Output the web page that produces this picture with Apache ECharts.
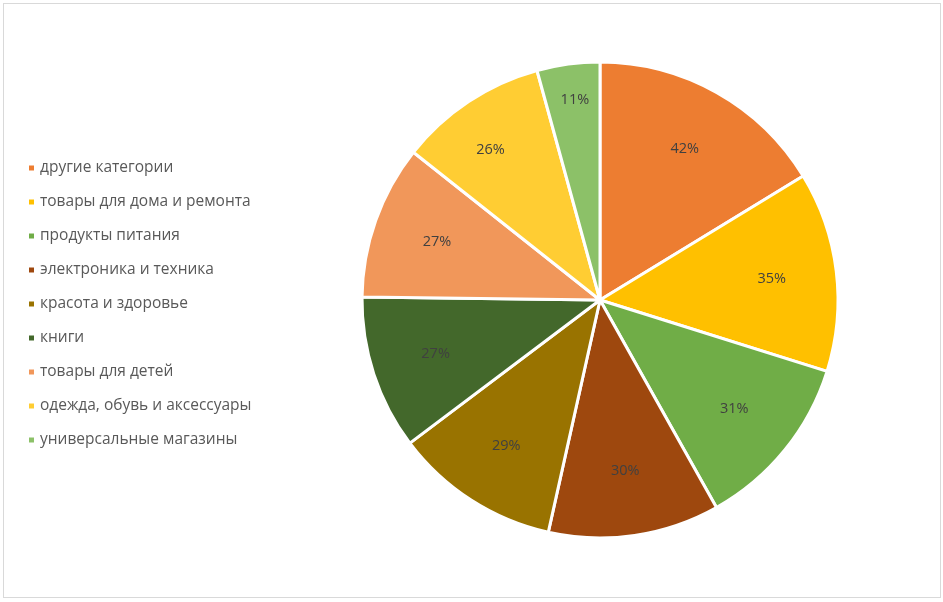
<!DOCTYPE html>
<html>
<head>
<meta charset="utf-8">
<script src="https://cdn.jsdelivr.net/npm/echarts@6/dist/echarts.min.js"></script>
<style>
  html, body { margin: 0; padding: 0; background: #fff; }
  #chart { width: 943px; height: 602px; }
  .frame { position: absolute; left: 3px; top: 3px; width: 936px; height: 593px; border: 1px solid #d9d9d9; pointer-events: none; }
</style>
</head>
<body>
<div id="chart"></div>
<div class="frame"></div>
<script>
const categories = [
  'другие категории',
  'товары для дома и ремонта',
  'продукты питания',
  'электроника и техника',
  'красота и здоровье',
  'книги',
  'товары для детей',
  'одежда, обувь и аксессуары',
  'универсальные магазины'
]
const shares = [42, 35, 31, 30, 29, 27, 27, 26, 11]
const colors = ['#ED7D31', '#FFC000', '#70AD47', '#9E480E', '#997300', '#43682B', '#F1975A', '#FFCD33', '#8CC168']

const chart = echarts.init(document.getElementById('chart'))

const pieData = categories.map((name, i) => ({ name, value: shares[i] }))

const option = {
  color: colors,
  textStyle: { fontFamily: 'Open Sans' },
  legend: {
    orient: 'vertical',
    left: 22,
    top: 153,
    itemWidth: 7,
    itemHeight: 7,
    itemGap: 14,
    icon: 'rect',
    textStyle: { fontSize: 15.5, color: '#595959', lineHeight: 20 },
    data: categories
  },
  series: [
    {
      type: 'pie',
      center: [600, 300],
      radius: [0, 238],
      startAngle: 90,
      clockwise: true,
      label: { show: false },
      labelLine: { show: false },
      itemStyle: { borderColor: '#fff', borderWidth: 3 },
      emphasis: { disabled: true },
      data: pieData
    },
    {
      // невидимый слой только для подписей (ближе к краю, как в Excel)
      type: 'pie',
      center: [600, 300],
      radius: [0, 340],
      startAngle: 90,
      clockwise: true,
      silent: true,
      itemStyle: { color: 'transparent' },
      label: {
        show: true,
        position: 'inside',
        formatter: '{c}%',
        fontSize: 14.5,
        color: '#404040'
      },
      labelLine: { show: false },
      labelLayout: (params) => {
        // маленький сектор — подпись ближе к краю
        if (params.dataIndex === 8) return { dx: -2, dy: -29 }
        if (params.dataIndex === 7) return { dx: -14, dy: -6 }
        return {}
      },
      emphasis: { disabled: true },
      data: pieData
    }
  ]
}

chart.setOption(option)
</script>
</body>
</html>
